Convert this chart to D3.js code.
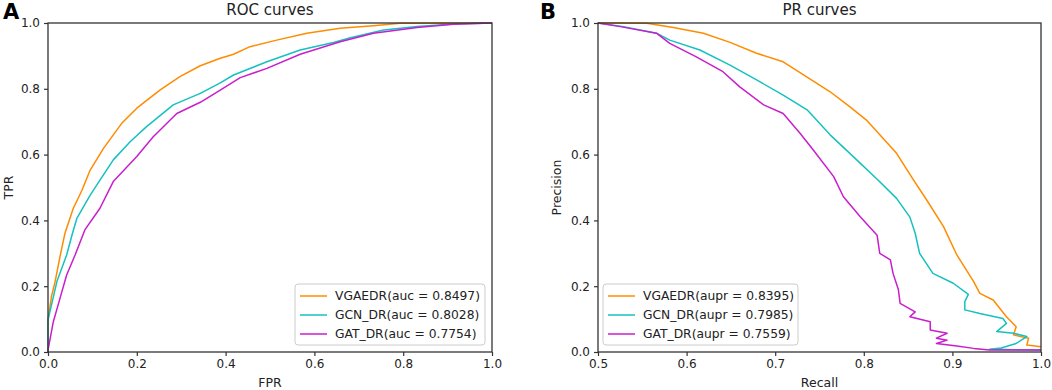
<!DOCTYPE html>
<html>
<head>
<meta charset="utf-8">
<script src="https://cdn.jsdelivr.net/npm/d3@7"></script>
<style>
  body { margin: 0; background: #fff; }
  svg text { font-family: "DejaVu Sans", sans-serif; fill: #222; }
</style>
</head>
<body>
<svg id="chart" width="1052" height="390"></svg>
<script>
// ROC curves (FPR, TPR)
const vgaeRoc = [[0,0],[0,0.10],[0.008,0.17],[0.016,0.214],[0.027,0.29],[0.038,0.36],[0.057,0.437],[0.076,0.49],[0.095,0.553],
  [0.125,0.619],[0.166,0.695],[0.2,0.741],[0.252,0.796],[0.297,0.837],[0.343,0.870],[0.388,0.893],
  [0.418,0.905],[0.455,0.928],[0.515,0.948],[0.583,0.969],[0.658,0.984],[0.733,0.992],[0.793,0.999],[1,1]];
const gcnRoc = [[0,0],[0,0.097],[0.02,0.214],[0.042,0.295],[0.055,0.36],[0.065,0.406],[0.095,0.477],[0.147,0.584],
  [0.185,0.639],[0.222,0.685],[0.282,0.751],[0.343,0.786],[0.388,0.818],[0.418,0.842],[0.493,0.882],
  [0.568,0.918],[0.643,0.941],[0.681,0.955],[0.756,0.979],[0.831,0.989],[0.913,0.997],[1,1]];
const gatRoc = [[0,0],[0,0.006],[0.012,0.092],[0.027,0.163],[0.042,0.234],[0.061,0.295],[0.083,0.371],
  [0.117,0.437],[0.147,0.518],[0.2,0.594],[0.237,0.654],[0.29,0.725],[0.343,0.759],[0.388,0.796],
  [0.433,0.834],[0.493,0.862],[0.568,0.905],[0.658,0.943],[0.733,0.969],[0.831,0.986],[0.913,0.996],[1,1]];

// PR curves (Recall, Precision)
const vgaePr = [[0.5,1],[0.555,0.999],[0.585,0.986],[0.619,0.969],[0.649,0.941],[0.679,0.908],[0.709,0.882],
  [0.732,0.842],[0.762,0.791],[0.784,0.746],[0.803,0.705],[0.837,0.604],[0.856,0.523],[0.871,0.462],
  [0.890,0.381],[0.905,0.295],[0.924,0.214],[0.931,0.178],[0.946,0.158],[0.961,0.107],[0.972,0.077],
  [0.969,0.052],[0.986,0.042],[0.984,0.021],[1,0.016]];
const gcnPr = [[0.5,1],[0.529,0.989],[0.566,0.969],[0.581,0.948],[0.615,0.918],[0.649,0.872],[0.679,0.827],
  [0.709,0.781],[0.736,0.736],[0.762,0.660],[0.792,0.584],[0.816,0.523],[0.837,0.467],[0.852,0.41],
  [0.858,0.361],[0.863,0.30],[0.878,0.239],[0.901,0.209],[0.918,0.175],[0.914,0.153],[0.914,0.128],
  [0.931,0.117],[0.957,0.102],[0.961,0.087],[0.95,0.062],[0.969,0.057],[0.984,0.047],[0.972,0.026],
  [0.955,0.012],[0.942,0.008],[1,0.006]];
const gatPr = [[0.5,1],[0.525,0.989],[0.566,0.969],[0.581,0.938],[0.611,0.897],[0.641,0.852],[0.66,0.806],
  [0.687,0.751],[0.709,0.725],[0.728,0.665],[0.743,0.614],[0.766,0.533],[0.777,0.472],[0.796,0.411],
  [0.815,0.355],[0.818,0.30],[0.83,0.28],[0.833,0.239],[0.839,0.19],[0.841,0.148],[0.858,0.122],
  [0.852,0.107],[0.875,0.092],[0.875,0.067],[0.894,0.057],[0.882,0.042],[0.894,0.036],[0.882,0.026],
  [0.905,0.018],[0.924,0.011],[0.942,0.006],[1,0.006]];

const rocLabels = ["VGAEDR(auc = 0.8497)", "GCN_DR(auc = 0.8028)", "GAT_DR(auc = 0.7754)"];
const prLabels = ["VGAEDR(aupr = 0.8395)", "GCN_DR(aupr = 0.7985)", "GAT_DR(aupr = 0.7559)"];
const colors = ["#ff8c00", "#17c0c0", "#c81ecc"];
const rocXTicks = [0, 0.2, 0.4, 0.6, 0.8, 1.0];
const prXTicks = [0.5, 0.6, 0.7, 0.8, 0.9, 1.0];
const yTicks = [0, 0.2, 0.4, 0.6, 0.8, 1.0];

const svg = d3.select("#chart");

function drawPanel(opts) {
  const { left, top, width, height } = opts;
  const g = svg.append("g").attr("transform", `translate(${left},${top})`);
  const x = d3.scaleLinear().domain(opts.xDomain).range([0, width]);
  const y = d3.scaleLinear().domain([0, 1]).range([height, 0]);

  // axes
  const xAxis = g.append("g").attr("transform", `translate(0,${height})`)
    .call(d3.axisBottom(x).tickValues(opts.xTicks).tickFormat(d3.format(".1f")).tickSize(4).tickPadding(3));
  const yAxis = g.append("g")
    .call(d3.axisLeft(y).tickValues(yTicks).tickFormat(d3.format(".1f")).tickSize(4).tickPadding(4));
  [xAxis, yAxis].forEach(a => {
    a.select(".domain").remove();
    a.selectAll(".tick line").attr("stroke", "#333").attr("stroke-width", 1.2);
    a.selectAll(".tick text").attr("font-size", 12).style("fill", "#222");
  });

  // curves
  const line = d3.line().x(d => x(d[0])).y(d => y(d[1]));
  opts.series.forEach((s, i) => {
    g.append("path").datum(s)
      .attr("fill", "none")
      .attr("stroke", colors[i])
      .attr("stroke-width", 1.5)
      .attr("stroke-linejoin", "round")
      .attr("d", line);
  });

  // frame
  g.append("rect").attr("width", width).attr("height", height)
    .attr("fill", "none").attr("stroke", "#333").attr("stroke-width", 1.3);

  // titles
  g.append("text").attr("x", width / 2).attr("y", -8).attr("text-anchor", "middle")
    .attr("font-size", 15).text(opts.title);
  g.append("text").attr("x", width / 2).attr("y", height + 35).attr("text-anchor", "middle")
    .attr("font-size", 12.5).text(opts.xLabel);
  g.append("text").attr("transform", `translate(${opts.yLabelX},${height / 2}) rotate(-90)`)
    .attr("text-anchor", "middle").attr("font-size", 12.5).text(opts.yLabel);
  svg.append("text").attr("x", opts.letterX).attr("y", 19)
    .attr("font-size", 21).attr("font-weight", "bold").style("fill", "#000").text(opts.letter);

  // legend
  const lg = g.append("g").attr("transform", `translate(${opts.legendX},${height - 68})`);
  lg.append("rect").attr("width", opts.legendW).attr("height", 61).attr("rx", 3)
    .attr("fill", "#fff").attr("fill-opacity", 0.85).attr("stroke", "#ccc").attr("stroke-width", 1);
  opts.labels.forEach((t, i) => {
    const yy = 12 + i * 19;
    lg.append("line").attr("x1", 5).attr("x2", 32).attr("y1", yy).attr("y2", yy)
      .attr("stroke", colors[i]).attr("stroke-width", 1.5);
    lg.append("text").attr("x", 40).attr("y", yy).attr("dy", "0.36em")
      .attr("font-size", 12.3).text(t);
  });
}

drawPanel({
  left: 48, top: 23, width: 444, height: 329,
  xDomain: [0, 1], xTicks: rocXTicks, series: [vgaeRoc, gcnRoc, gatRoc],
  title: "ROC curves", xLabel: "FPR", yLabel: "TPR", yLabelX: -35,
  letter: "A", letterX: 3, labels: rocLabels, legendX: 247, legendW: 190
});

drawPanel({
  left: 598, top: 23, width: 443, height: 329,
  xDomain: [0.5, 1], xTicks: prXTicks, series: [vgaePr, gcnPr, gatPr],
  title: "PR curves", xLabel: "Recall", yLabel: "Precision", yLabelX: -37,
  letter: "B", letterX: 540, labels: prLabels, legendX: 5, legendW: 195
});
</script>
</body>
</html>
